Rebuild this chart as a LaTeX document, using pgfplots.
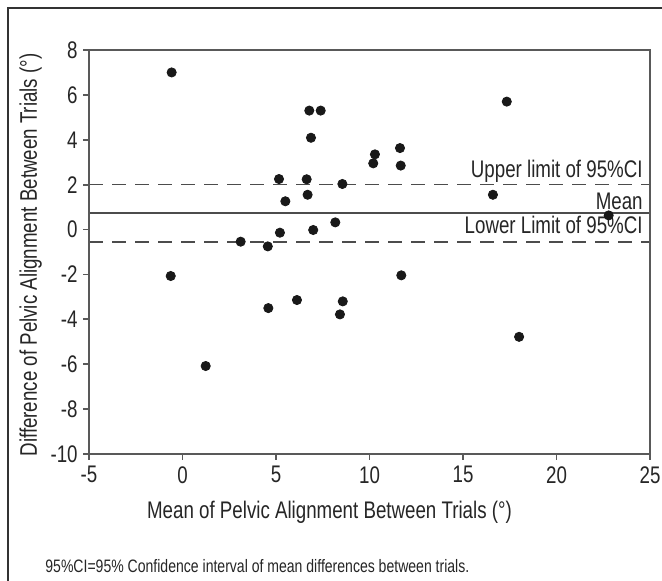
\documentclass[border=0pt]{standalone}
\usepackage{fontspec}
\setmainfont{Liberation Sans}[FakeStretch=0.78]
\usepackage{pgfplots}
\pgfplotsset{compat=1.18}
\begin{document}
\begin{tikzpicture}
\useasboundingbox (0,0) rectangle (331pt,290.5pt);
\fill[white] (0,0) rectangle (331pt,290.5pt);
\draw[black!80, line width=0.6pt] (4pt,-1pt) -- (4pt,286.5pt) -- (332pt,286.5pt);
\begin{axis}[
  at={(44.5pt,63.5pt)}, anchor=south west,
  scale only axis, width=280.5pt, height=202pt,
  xmin=-5, xmax=25, ymin=-10, ymax=8,
  axis lines=box,
  xtick={-5,0,5,10,15,20,25},
  xticklabels={-5,0,5,10,15,20,25},
  ytick={-10,-8,-6,-4,-2,0,2,4,6,8},
  yticklabels={-10,-8,-6,-4,-2,0,2,4,6,8},
  xtick pos=bottom, ytick pos=left,
  tick align=outside, major tick length=3pt,
  axis line style={black!65, line width=0.9pt},
  every tick/.style={black!65, line width=0.9pt},
  tick label style={font=\fontsize{12}{14}\selectfont, text=black!85},
  xticklabel style={inner sep=3pt},
  yticklabel style={inner sep=2.5pt},
  label style={font=\fontsize{12}{14}\selectfont, text=black!85},
  xlabel={Mean of Pelvic Alignment Between Trials (\textdegree)},
  ylabel={Difference of Pelvic Alignment Between Trials (\textdegree)},
  xlabel style={at={(axis description cs:0.4287,-0.115)}, anchor=north, inner sep=0pt},
  ylabel style={at={(axis description cs:-0.0927,0.4926)}, anchor=base, inner sep=0pt},
  clip=false,
]
\addplot[black!70, line width=0.9pt, dash pattern=on 7pt off 4.5pt] coordinates {(-5,2.01) (25,2.01)};
\addplot[black!70, line width=0.9pt] coordinates {(-5,0.74) (25,0.74)};
\addplot[black!70, line width=0.9pt, dash pattern=on 7pt off 4.5pt] coordinates {(-5,-0.54) (25,-0.54)};
\addplot[only marks, mark=*, mark size=2.3pt, color=black!90] coordinates {
(-0.58,7.0) (-0.63,-2.07) (3.11,-0.54) (4.56,-0.75) (4.59,-3.5)
(5.16,2.25) (5.5,1.26) (5.21,-0.14) (6.12,-3.14) (6.78,5.3)
(7.39,5.3) (6.87,4.09) (6.64,2.24) (6.69,1.55) (6.99,-0.02)
(8.17,0.32) (8.55,2.03) (8.57,-3.2) (8.42,-3.78) (10.2,2.95)
(10.29,3.35) (11.63,3.63) (11.67,2.85) (17.34,5.7) (16.6,1.55)
(22.79,0.63) (11.7,-2.04) (18.0,-4.78) (1.24,-6.08)
};
\node[anchor=base east, inner sep=0pt, font=\fontsize{12}{14}\selectfont, text=black!85, xshift=-3.5pt, yshift=3.5pt] at (axis cs:25,2.01) {Upper limit of 95\%CI};
\node[anchor=base east, inner sep=0pt, font=\fontsize{12}{14}\selectfont, text=black!85, xshift=-3.5pt, yshift=1.6pt] at (axis cs:25,0.74) {Mean};
\node[anchor=base east, inner sep=0pt, font=\fontsize{12}{14}\selectfont, text=black!85, xshift=-3.5pt, yshift=4pt] at (axis cs:25,-0.54) {Lower Limit of 95\%CI};
\end{axis}
\draw[black!65, line width=0.9pt] (44.5pt,63.5pt) rectangle (325pt,265.5pt);
\node[anchor=base west, inner sep=0pt, font=\fontsize{9}{11}\selectfont, text=black!85] at (22.5pt,4pt) {95\%CI=95\% Confidence interval of mean differences between trials.};
\end{tikzpicture}
\end{document}
